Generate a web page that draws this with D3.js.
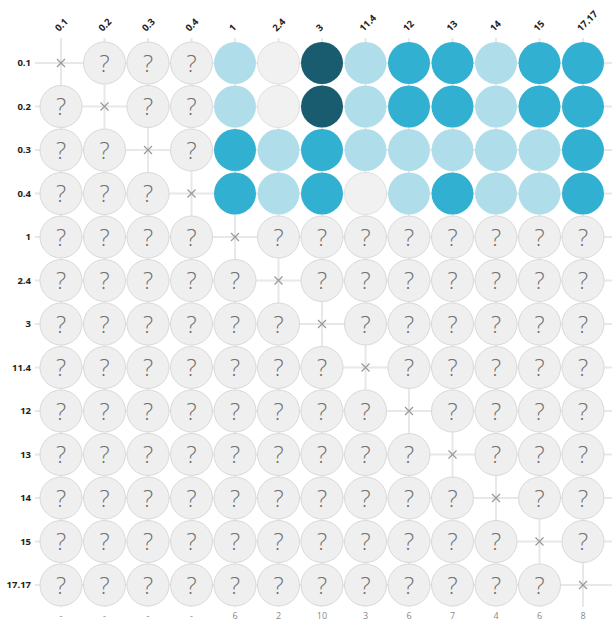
<!DOCTYPE html>
<html lang="en">
<head>
    <meta charset="UTF-8">
    <title>Pairwise matrix</title>
    <script src="https://d3js.org/d3.v7.min.js"></script>
    <style>
        body { margin: 0; background: #fff; }
        text { font-family: "Open Sans", "Noto Sans", sans-serif; }
    </style>
</head>
<body>
<svg id="chart" width="614" height="622"></svg>

<script>
    const labels = ["0.1", "0.2", "0.3", "0.4", "1", "2.4", "3", "11.4", "12", "13", "14", "15", "17.17"];
    const bottomLabels = ["-", "-", "-", "-", "6", "2", "10", "3", "6", "7", "4", "6", "8"];
    // known cells: rows 0.1..0.4 against columns 1..17.17 (0 none, 1 low, 2 mid, 3 high)
    const knownRows = ["0.1", "0.2", "0.3", "0.4"];
    const knownCols = ["1", "2.4", "3", "11.4", "12", "13", "14", "15", "17.17"];
    const knownLevels = [
        [1, 0, 3, 1, 2, 2, 1, 2, 2],
        [1, 0, 3, 1, 2, 2, 1, 2, 2],
        [2, 1, 2, 1, 1, 1, 1, 1, 2],
        [2, 1, 2, 0, 1, 2, 1, 1, 2]
    ];
    const levelColors = ["#f1f1f1", "#afdeea", "#31b0d2", "#1a5c6f"];

    const svg = d3.select("#chart");
    const x = d3.scalePoint().domain(labels).range([61, 583]);
    const y = d3.scalePoint().domain(labels).range([63, 585]);
    const r = 21;

    const lookup = new Map();
    knownRows.forEach((rw, i) => knownCols.forEach((c, j) => lookup.set(rw + "|" + c, knownLevels[i][j])));

    // grid lines
    const grid = svg.append("g").attr("stroke", "#e8e8e8").attr("stroke-width", 2);
    grid.selectAll("line.h").data(labels).join("line").attr("class", "h")
        .attr("x1", 35).attr("x2", 612).attr("y1", d => y(d)).attr("y2", d => y(d));
    grid.selectAll("line.v").data(labels).join("line").attr("class", "v")
        .attr("y1", 38).attr("y2", 607).attr("x1", d => x(d)).attr("x2", d => x(d));

    const cells = [];
    labels.forEach(rw => labels.forEach(c => cells.push({ row: rw, col: c })));

    const cell = svg.append("g").selectAll("g").data(cells).join("g")
        .attr("transform", d => `translate(${x(d.col)},${y(d.row)})`);

    cell.filter(d => d.row === d.col).each(function() {
        d3.select(this).append("path").attr("d", "M-4,-4L4,4M4,-4L-4,4")
            .attr("stroke", "#999").attr("stroke-width", 1.2).attr("fill", "none");
    });

    cell.filter(d => d.row !== d.col).each(function(d) {
        const g = d3.select(this);
        const lv = lookup.get(d.row + "|" + d.col);
        if (lv !== undefined) {
            g.append("circle").attr("r", r).attr("fill", levelColors[lv])
                .attr("stroke", lv === 0 ? "#e0e0e0" : "none");
        } else {
            g.append("circle").attr("r", r).attr("fill", "#efefef").attr("stroke", "#d9d9d9").attr("stroke-width", 1);
            g.append("text").attr("text-anchor", "middle").attr("dy", "0.36em")
                .attr("font-size", 24).attr("font-weight", 300).attr("fill", "#707070").text("?");
        }
    });

    // top labels
    svg.append("g").selectAll("text").data(labels).join("text")
        .attr("transform", d => `translate(${x(d) - 2},${32}) rotate(-45)`)
        .attr("font-size", 9.5).attr("font-weight", 700).attr("fill", "#222").text(d => d);

    // left labels
    svg.append("g").selectAll("text").data(labels).join("text")
        .attr("x", 31).attr("y", d => y(d)).attr("dy", "0.35em").attr("text-anchor", "end")
        .attr("font-size", 9.5).attr("font-weight", 700).attr("fill", "#222").text(d => d);

    // bottom labels
    svg.append("g").selectAll("text").data(labels).join("text")
        .attr("x", d => x(d)).attr("y", 619).attr("text-anchor", "middle")
        .attr("font-size", 9).attr("fill", "#888").text((d, i) => bottomLabels[i]);
</script>
</body>
</html>
